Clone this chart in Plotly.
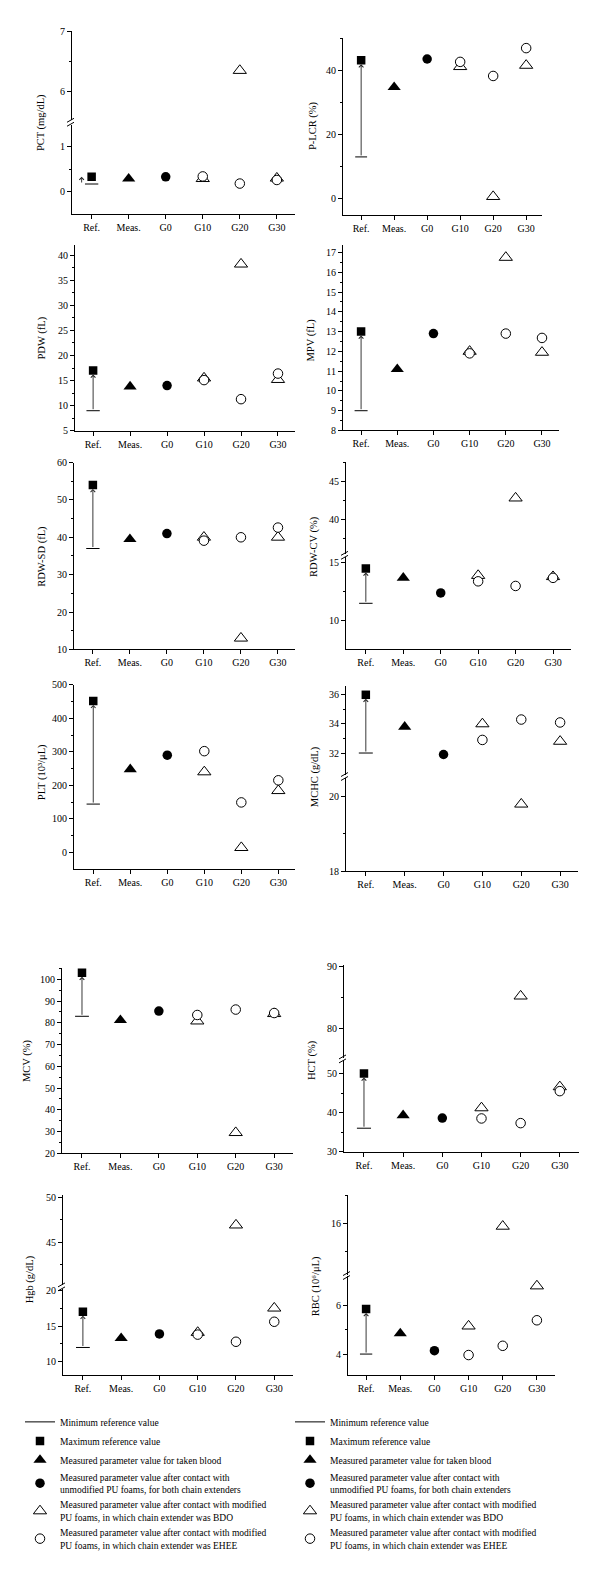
import plotly.graph_objects as go

W, H = 600, 1596
FONT = "Liberation Serif"

# ---------------- data ----------------
categories = ["Ref.", "Meas.", "G0", "G10", "G20", "G30"]
param_titles = ["PCT (mg/dL)", "P-LCR (%)", "PDW (fL)", "MPV (fL)", "RDW-SD (fL)", "RDW-CV (%)",
                "PLT (10³/μL)", "MCHC (g/dL)", "MCV (%)", "HCT (%)", "Hgb (g/dL)",
                "RBC (10⁶/μL)"]
ref_min = [0.17, 13, 9, 9, 37, 11.5, 144, 32, 83, 36, 12, 4.0]
ref_max = [0.33, 43.2, 17, 13, 54, 14.5, 452, 36, 103, 50, 17, 5.85]
measured = [0.29, 34.8, 13.8, 11.1, 39.5, 13.7, 248, 33.8, 81.2, 39.3, 13.3, 4.85]
g0_unmodified = [0.33, 43.6, 14.0, 12.9, 41.0, 12.4, 290, 31.9, 85.4, 38.6, 13.9, 4.14]
bdo_g10_g20_g30 = [[0.29, 6.35, 0.30], [41.2, 0.6, 41.6], [15.5, 38.2, 15.2], [12.0, 16.75, 11.95],
                   [40.0, 13.0, 40.0], [13.9, 42.8, 13.8], [240, 14, 184], [34.0, 19.8, 32.8],
                   [80.8, 29.5, 84.2], [41.2, 85.2, 46.6], [14.1, 46.9, 17.5], [5.15, 15.6, 6.8]]
ehee_g10_g20_g30 = [[0.34, 0.18, 0.26], [42.7, 38.3, 47.0], [15.1, 11.3, 16.4], [11.9, 12.9, 12.68],
                    [39.1, 40.0, 42.6], [13.4, 13.0, 13.7], [302, 149, 215], [32.9, 34.3, 34.1],
                    [83.6, 86.1, 84.5], [38.5, 37.3, 45.5], [13.8, 12.8, 15.6], [3.96, 4.34, 5.39]]
legend_names = ["Minimum reference value", "Maximum reference value",
                "Measured parameter value for taken blood",
                "Measured parameter value after contact with<br>unmodified PU foams, for both chain extenders",
                "Measured parameter value after contact with modified<br>PU foams, in which chain extender was BDO",
                "Measured parameter value after contact with modified<br>PU foams, in which chain extender was EHEE"]

# ---------------- layout config (pixel geometry) ----------------
def rng(a, b, s):
    out, v = [], a
    while v <= b + 1e-9:
        out.append(round(v, 4))
        v += s
    return out

panels = [
    dict(tx=41, ty=118, xl=72, xr=295, xrng=[-0.53, 5.49], arrow_dx=-0.27,
         segs=[dict(r=[-0.5, 1.5], bot=209.5, top=119.5, major=[0, 1], minor=[0.5]),
               dict(r=[5.52, 7.02], bot=114.8, top=24.8, major=[6, 7], minor=[6.5])]),
    dict(tx=313, ty=120, xl=343, xr=542, xrng=[-0.55, 5.48],
         segs=[dict(r=[-5, 50.3], bot=210.1, top=31.8, major=[0, 20, 40], minor=[10, 30, 50])]),
    dict(tx=42, ty=335, xl=75, xr=295, xrng=[-0.49, 5.46],
         segs=[dict(r=[5, 42], bot=428, top=240.9, major=rng(5, 40, 5), minor=rng(7.5, 42, 5))]),
    dict(tx=311, ty=337, xl=343, xr=559, xrng=[-0.5, 5.47],
         segs=[dict(r=[8, 17.4], bot=427.7, top=240.4, major=rng(8, 17, 1), minor=rng(8.5, 17.4, 1))]),
    dict(tx=42, ty=555, xl=74, xr=295, xrng=[-0.51, 5.46],
         segs=[dict(r=[10, 60], bot=648.3, top=460, major=rng(10, 60, 10), minor=rng(15, 55, 10))]),
    dict(tx=314, ty=545, xl=346, xr=571, xrng=[-0.53, 5.48],
         segs=[dict(r=[7.54, 15.5], bot=648, top=555.2, major=[10, 15], minor=[12.5]),
               dict(r=[35.5, 47.5], bot=551.8, top=459.8, major=[40, 45], minor=[37.5, 42.5, 47.5])]),
    dict(tx=42, ty=772, xl=74, xr=295, xrng=[-0.52, 5.45],
         segs=[dict(r=[-50, 500], bot=869.6, top=684, major=rng(0, 500, 100), minor=rng(50, 450, 100))]),
    dict(tx=315, ty=777, xl=346, xr=578, xrng=[-0.51, 5.46],
         segs=[dict(r=[18, 20.5], bot=871.7, top=778, major=[18, 20], minor=[19]),
               dict(r=[30.5, 36.6], bot=774.7, top=685.2, major=[32, 34, 36], minor=[33, 35])]),
    dict(tx=27, ty=1063, xl=62, xr=293, xrng=[-0.52, 5.49],
         segs=[dict(r=[20, 105.2], bot=1156, top=969.3, major=rng(20, 100, 10), minor=rng(25, 105, 10))]),
    dict(tx=312, ty=1062, xl=344, xr=579, xrng=[-0.51, 5.49],
         segs=[dict(r=[30, 53.5], bot=1154.3, top=1061.9, major=[30, 40, 50], minor=[35, 45]),
               dict(r=[75.2, 90.2], bot=1059.9, top=966.5, major=[80, 90], minor=[85])]),
    dict(tx=30, ty=1283, xl=63, xr=293, xrng=[-0.52, 5.49],
         segs=[dict(r=[8.2, 20.2], bot=1379, top=1292.6, major=[10, 15, 20], minor=[12.5, 17.5]),
               dict(r=[40.3, 50.2], bot=1288.6, top=1198.2, major=[45, 50], minor=[42.5, 47.5])]),
    dict(tx=316, ty=1290, xl=348, xr=555, xrng=[-0.53, 5.53],
         segs=[dict(r=[3.15, 7.2], bot=1379.1, top=1279.9, major=[4, 6], minor=[5]),
               dict(r=[8.7, 20], bot=1278.4, top=1198.4, major=[16], minor=[12, 20])]),
]

def px2x(px):
    return px / W

def px2y(py):
    return 1 - py / H

fig = go.Figure()
layout = {}
annotations = []
shapes = []
ax_i = 0
tickfont = dict(family=FONT, size=10, color="black")

for p, cfg in enumerate(panels):
    for s, seg in enumerate(cfg["segs"]):
        ax_i += 1
        sfx = "" if ax_i == 1 else str(ax_i)
        xref, yref = "x" + sfx, "y" + sfx
        lo, hi = seg["r"]
        xa = dict(domain=[px2x(cfg["xl"]), px2x(cfg["xr"])], range=cfg["xrng"], anchor=yref,
                  showgrid=False, zeroline=False)
        if s == 0:
            xa.update(tickmode="array", tickvals=list(range(len(categories))), ticktext=categories,
                      ticks="outside", ticklen=4, tickcolor="black", showline=True, linecolor="black",
                      linewidth=1, tickfont=tickfont)
        else:
            xa.update(showline=False, showticklabels=False, ticks="")
        ya = dict(domain=[px2y(seg["bot"]), px2y(seg["top"])], range=[lo, hi], anchor=xref,
                  showgrid=False, zeroline=False, showline=True, linecolor="black", linewidth=1,
                  tickmode="array", tickvals=seg["major"], ticks="outside", ticklen=4,
                  tickcolor="black", tickfont=tickfont,
                  minor=dict(tickmode="array", tickvals=seg["minor"], ticks="outside", ticklen=2.5,
                             tickcolor="black", showgrid=False))
        layout["xaxis" + sfx] = xa
        layout["yaxis" + sfx] = ya

        def inr(v):
            return lo <= v <= hi

        # minimum reference line
        if inr(ref_min[p]):
            fig.add_trace(go.Scatter(x=[-0.18, 0.18], y=[ref_min[p]] * 2, mode="lines",
                                     line=dict(color="black", width=1), xaxis=xref, yaxis=yref,
                                     showlegend=False, hoverinfo="skip"))
        # arrow from min to max
        if inr(ref_min[p]) and inr(ref_max[p]):
            dx = cfg.get("arrow_dx", 0)
            annotations.append(dict(x=dx, y=ref_max[p], ax=dx, ay=ref_min[p], xref=xref, yref=yref,
                                    axref=xref, ayref=yref, showarrow=True, arrowhead=4,
                                    arrowsize=1, arrowwidth=0.9, arrowcolor="#222",
                                    standoff=4 if dx == 0 else 0, text=""))
        # maximum reference (square)
        if inr(ref_max[p]):
            fig.add_trace(go.Scatter(x=[0], y=[ref_max[p]], mode="markers",
                                     marker=dict(symbol="square", size=8.5, color="black"),
                                     xaxis=xref, yaxis=yref, showlegend=False))
        if inr(measured[p]):
            fig.add_trace(go.Scatter(x=[1], y=[measured[p]], mode="markers",
                                     marker=dict(symbol="triangle-up", size=11.5, color="black"),
                                     xaxis=xref, yaxis=yref, showlegend=False))
        if inr(g0_unmodified[p]):
            fig.add_trace(go.Scatter(x=[2], y=[g0_unmodified[p]], mode="markers",
                                     marker=dict(symbol="circle", size=9.5, color="black"),
                                     xaxis=xref, yaxis=yref, showlegend=False))
        bx = [3 + i for i, v in enumerate(bdo_g10_g20_g30[p]) if inr(v)]
        by = [v for v in bdo_g10_g20_g30[p] if inr(v)]
        fig.add_trace(go.Scatter(x=bx, y=by, mode="markers",
                                 marker=dict(symbol="triangle-up", size=11.5, color="white",
                                             line=dict(color="black", width=1)),
                                 xaxis=xref, yaxis=yref, showlegend=False))
        ex = [3 + i for i, v in enumerate(ehee_g10_g20_g30[p]) if inr(v)]
        ey = [v for v in ehee_g10_g20_g30[p] if inr(v)]
        fig.add_trace(go.Scatter(x=ex, y=ey, mode="markers",
                                 marker=dict(symbol="circle", size=9.5, color="white",
                                             line=dict(color="black", width=1)),
                                 xaxis=xref, yaxis=yref, showlegend=False))

        # axis break marks
        if s > 0:
            prev = cfg["segs"][s - 1]
            yc = (prev["top"] + seg["bot"]) / 2
            xl = cfg["xl"]
            for off in (-2, 2):
                shapes.append(dict(type="line", xref="paper", yref="paper",
                                   x0=px2x(xl - 5), y0=px2y(yc + off + 2),
                                   x1=px2x(xl + 2), y1=px2y(yc + off - 2),
                                   line=dict(color="black", width=1)))
    annotations.append(dict(x=px2x(cfg["tx"]), y=px2y(cfg["ty"]), xref="paper", yref="paper",
                            xanchor="center", yanchor="middle",
                            text=param_titles[p], textangle=-90, showarrow=False,
                            font=dict(family=FONT, size=10.5, color="black")))

# ---------------- legends ----------------
for lg in ("legend", "legend2"):
    fig.add_trace(go.Scatter(x=[None], y=[None], mode="lines", line=dict(color="black", width=1),
                             name=legend_names[0], legend=lg))
    fig.add_trace(go.Scatter(x=[None], y=[None], mode="markers", name=legend_names[1], legend=lg,
                             marker=dict(symbol="square", size=8.5, color="black")))
    fig.add_trace(go.Scatter(x=[None], y=[None], mode="markers", name=legend_names[2], legend=lg,
                             marker=dict(symbol="triangle-up", size=11.5, color="black")))
    fig.add_trace(go.Scatter(x=[None], y=[None], mode="markers", name=legend_names[3], legend=lg,
                             marker=dict(symbol="circle", size=9.5, color="black")))
    fig.add_trace(go.Scatter(x=[None], y=[None], mode="markers", name=legend_names[4], legend=lg,
                             marker=dict(symbol="triangle-up", size=11.5, color="white",
                                         line=dict(color="black", width=1))))
    fig.add_trace(go.Scatter(x=[None], y=[None], mode="markers", name=legend_names[5], legend=lg,
                             marker=dict(symbol="circle", size=9.5, color="white",
                                         line=dict(color="black", width=1))))

legend_common = dict(yanchor="top", xanchor="left", traceorder="normal", tracegroupgap=0,
                     bgcolor="rgba(0,0,0,0)", font=dict(family=FONT, size=9.5, color="black"),
                     itemwidth=30)
layout["legend"] = dict(x=px2x(20), y=px2y(1412), **legend_common)
layout["legend2"] = dict(x=px2x(290), y=px2y(1412), **legend_common)

fig.update_layout(width=W, height=H, margin=dict(l=0, r=0, t=0, b=0),
                  paper_bgcolor="white", plot_bgcolor="white",
                  font=dict(family=FONT, size=10, color="black"),
                  annotations=annotations, shapes=shapes, showlegend=True, **layout)

fig.write_html("out.html", config={"displayModeBar": False},
               post_script="document.body.style.margin='0';document.body.style.padding='0';")
